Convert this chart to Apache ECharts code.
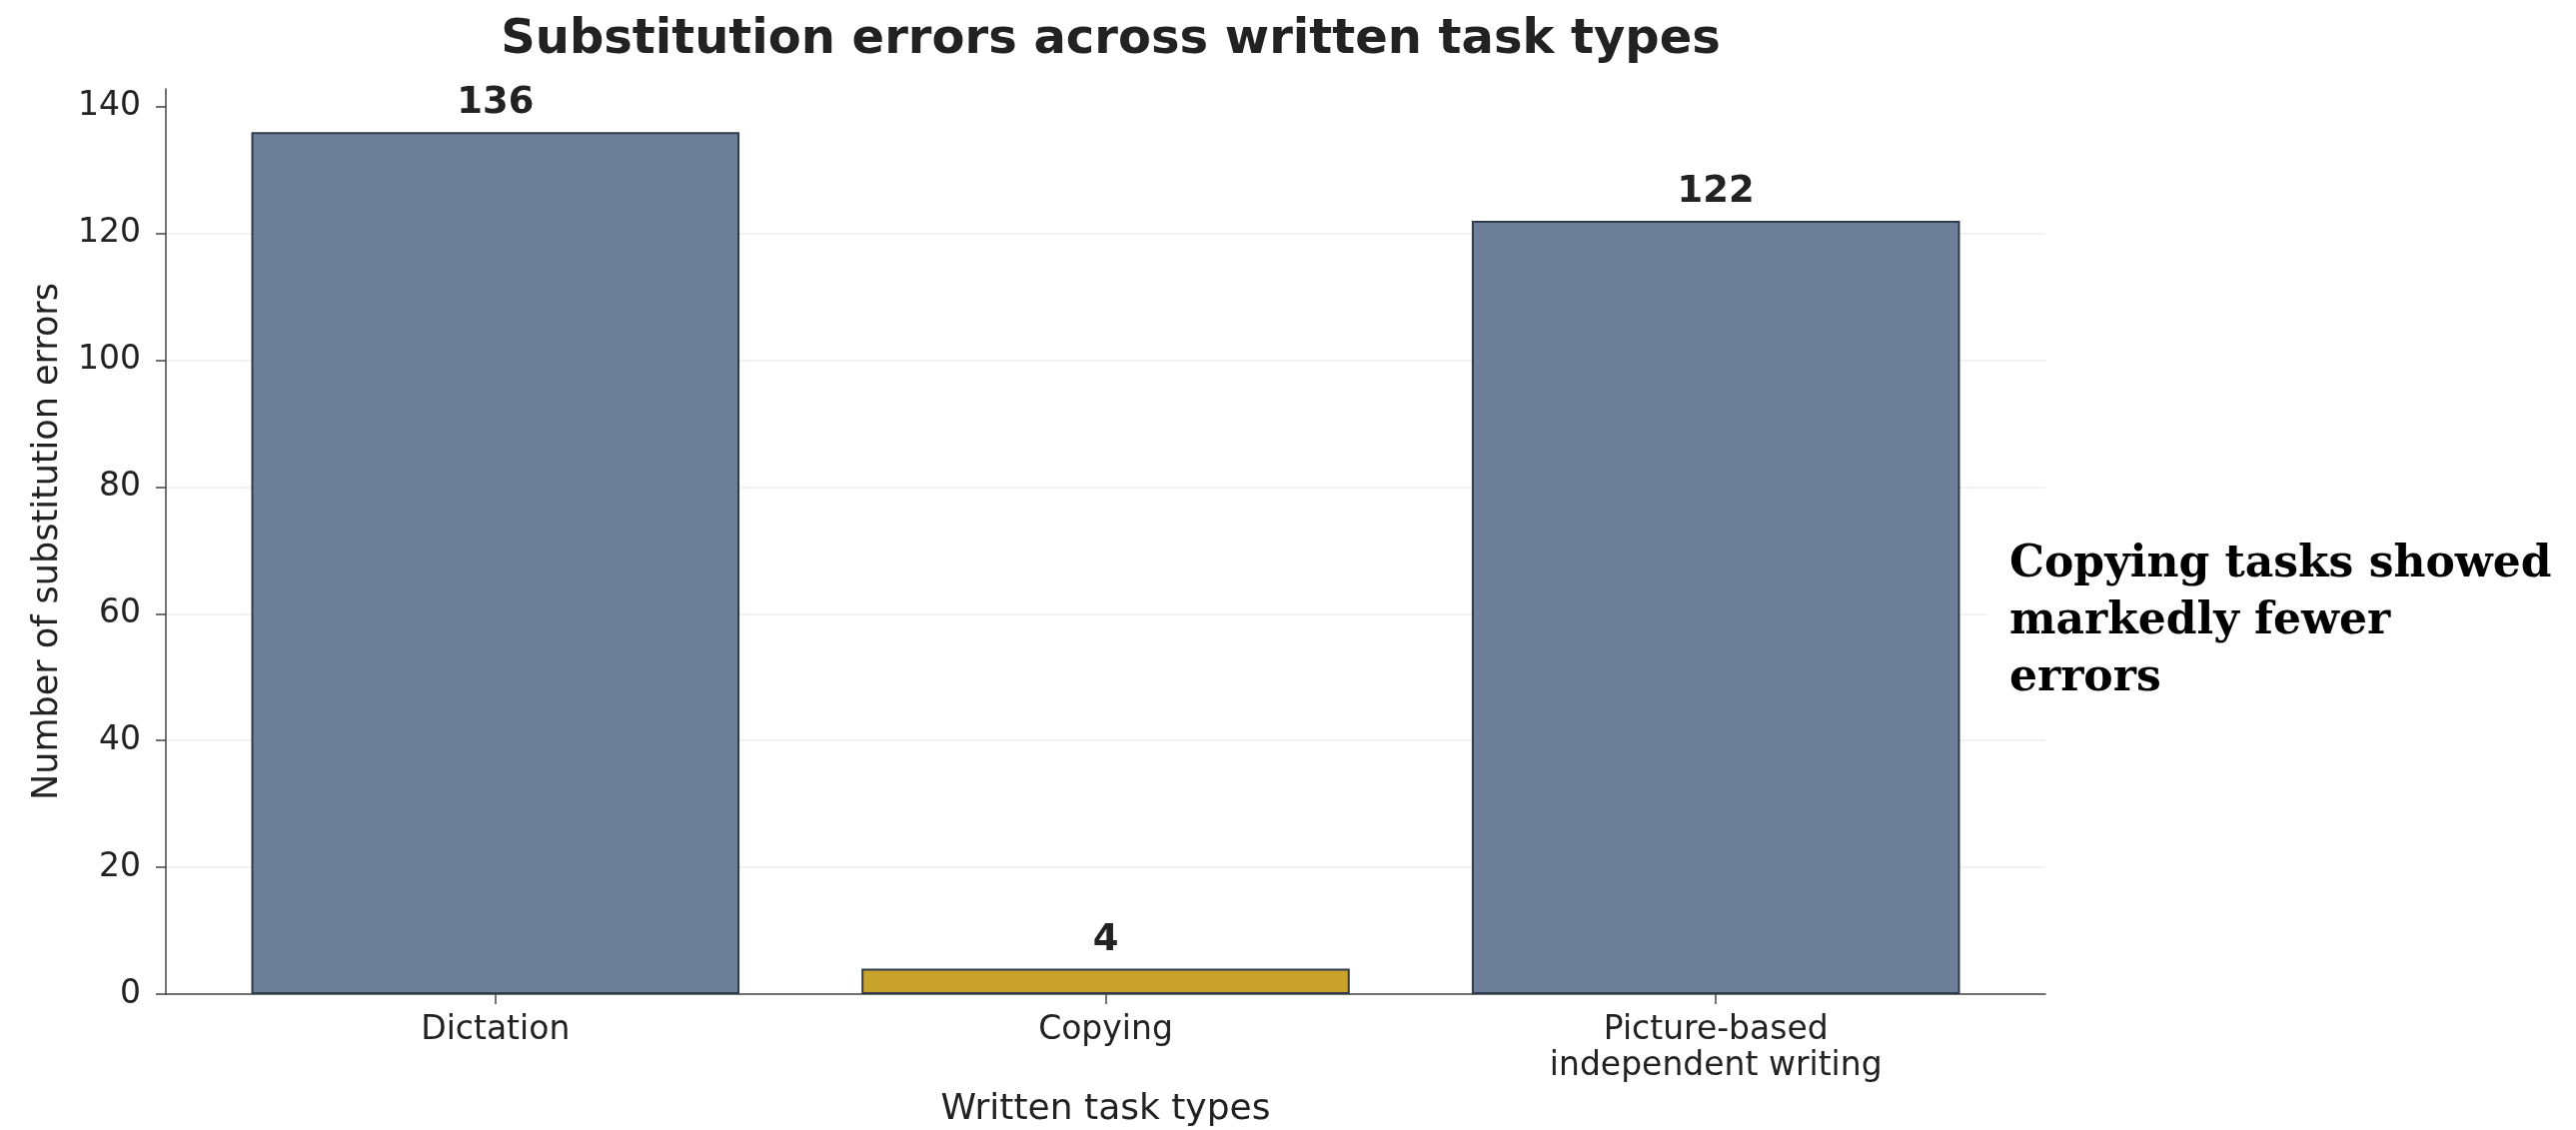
<!DOCTYPE html>
<html>
<head>
<meta charset="utf-8">
<script src="https://cdn.jsdelivr.net/npm/echarts@6/dist/echarts.min.js"></script>
<style>
  html, body { margin: 0; padding: 0; background: #ffffff; }
  #chart { width: 2578px; height: 1131px; }
</style>
</head>
<body>
<div id="chart"></div>
<script>
// Task categories and error counts
const categories = ['Dictation', 'Copying', 'Picture-based\nindependent writing'];
const errorCounts = [136, 4, 122];
const barColors = ['#6e7f99', '#c9a22b', '#6e7f99'];
const yTicks = [0, 20, 40, 60, 80, 100, 120, 140];

const titleText = 'Substitution errors across written task types';
const xAxisTitle = 'Written task types';
const yAxisTitle = 'Number of substitution errors';
const noteText = 'Copying tasks showed\nmarkedly fewer\nerrors';

// Plot-area geometry
const gridLeft = 166, gridRight = 531, gridTop = 89, gridBottom = 136;
const plotWidth = 2578 - gridLeft - gridRight;
const xMin = -0.54, xMax = 2.54;
const yMax = 142.8;
const barWidthPx = 0.8 * plotWidth / (xMax - xMin);

const FONT = 'DejaVu Sans';
const TEXT = '#222222';
const AXIS = '#444444';

const chart = echarts.init(document.getElementById('chart'), null, { renderer: 'canvas' });

chart.setOption({
  backgroundColor: '#ffffff',
  animation: false,
  title: {
    text: titleText,
    left: gridLeft + plotWidth / 2,
    textAlign: 'center',
    top: 11,
    textStyle: { fontFamily: FONT, fontWeight: 'bold', fontSize: 48, color: TEXT, lineHeight: 50 }
  },
  grid: {
    left: gridLeft, right: gridRight, top: gridTop, bottom: gridBottom,
    containLabel: false, outerBoundsMode: 'none'
  },
  xAxis: {
    type: 'value',
    min: xMin,
    max: xMax,
    name: xAxisTitle,
    nameLocation: 'middle',
    nameGap: 98,
    nameTextStyle: { fontFamily: FONT, fontSize: 36, color: TEXT, lineHeight: 36 },
    axisLine: { show: true, onZero: false, lineStyle: { color: AXIS, width: 1.5 } },
    axisTick: { show: true, length: 10, lineStyle: { color: AXIS, width: 1.5 }, customValues: [0, 1, 2] },
    axisLabel: {
      customValues: [0, 1, 2],
      formatter: v => categories[Math.round(v)],
      fontFamily: FONT, fontSize: 33, color: TEXT, lineHeight: 36, margin: 18
    },
    splitLine: { show: false }
  },
  yAxis: {
    type: 'value',
    min: 0,
    max: yMax,
    interval: 20,
    name: yAxisTitle,
    nameLocation: 'middle',
    nameGap: 101,
    nameTextStyle: { fontFamily: FONT, fontSize: 35, color: TEXT, lineHeight: 35 },
    axisLine: { show: true, onZero: false, lineStyle: { color: AXIS, width: 1.5 } },
    axisTick: { show: true, length: 10, lineStyle: { color: AXIS, width: 1.5 }, customValues: yTicks },
    axisLabel: { customValues: yTicks, fontFamily: FONT, fontSize: 33, color: TEXT, margin: 25 },
    splitLine: { show: true, showMaxLine: false, lineStyle: { color: '#eeeeee', width: 1.5 } }
  },
  series: [{
    type: 'bar',
    barWidth: barWidthPx,
    data: errorCounts.map((v, i) => ({
      value: [i, v],
      itemStyle: { color: barColors[i], borderColor: '#2f3b4d', borderWidth: 2 }
    })),
    label: {
      show: true,
      position: 'top',
      distance: 10,
      formatter: p => String(p.value[1]),
      fontFamily: FONT, fontWeight: 'bold', fontSize: 37, color: TEXT, lineHeight: 37
    }
  }],
  graphic: [{
    type: 'text',
    left: 1989,
    top: 525,
    z: 100,
    style: {
      text: noteText,
      font: 'bold 44px "DejaVu Serif"',
      fill: '#000000',
      lineHeight: 57,
      backgroundColor: '#ffffff',
      padding: [12, 22]
    }
  }]
});
</script>
</body>
</html>
